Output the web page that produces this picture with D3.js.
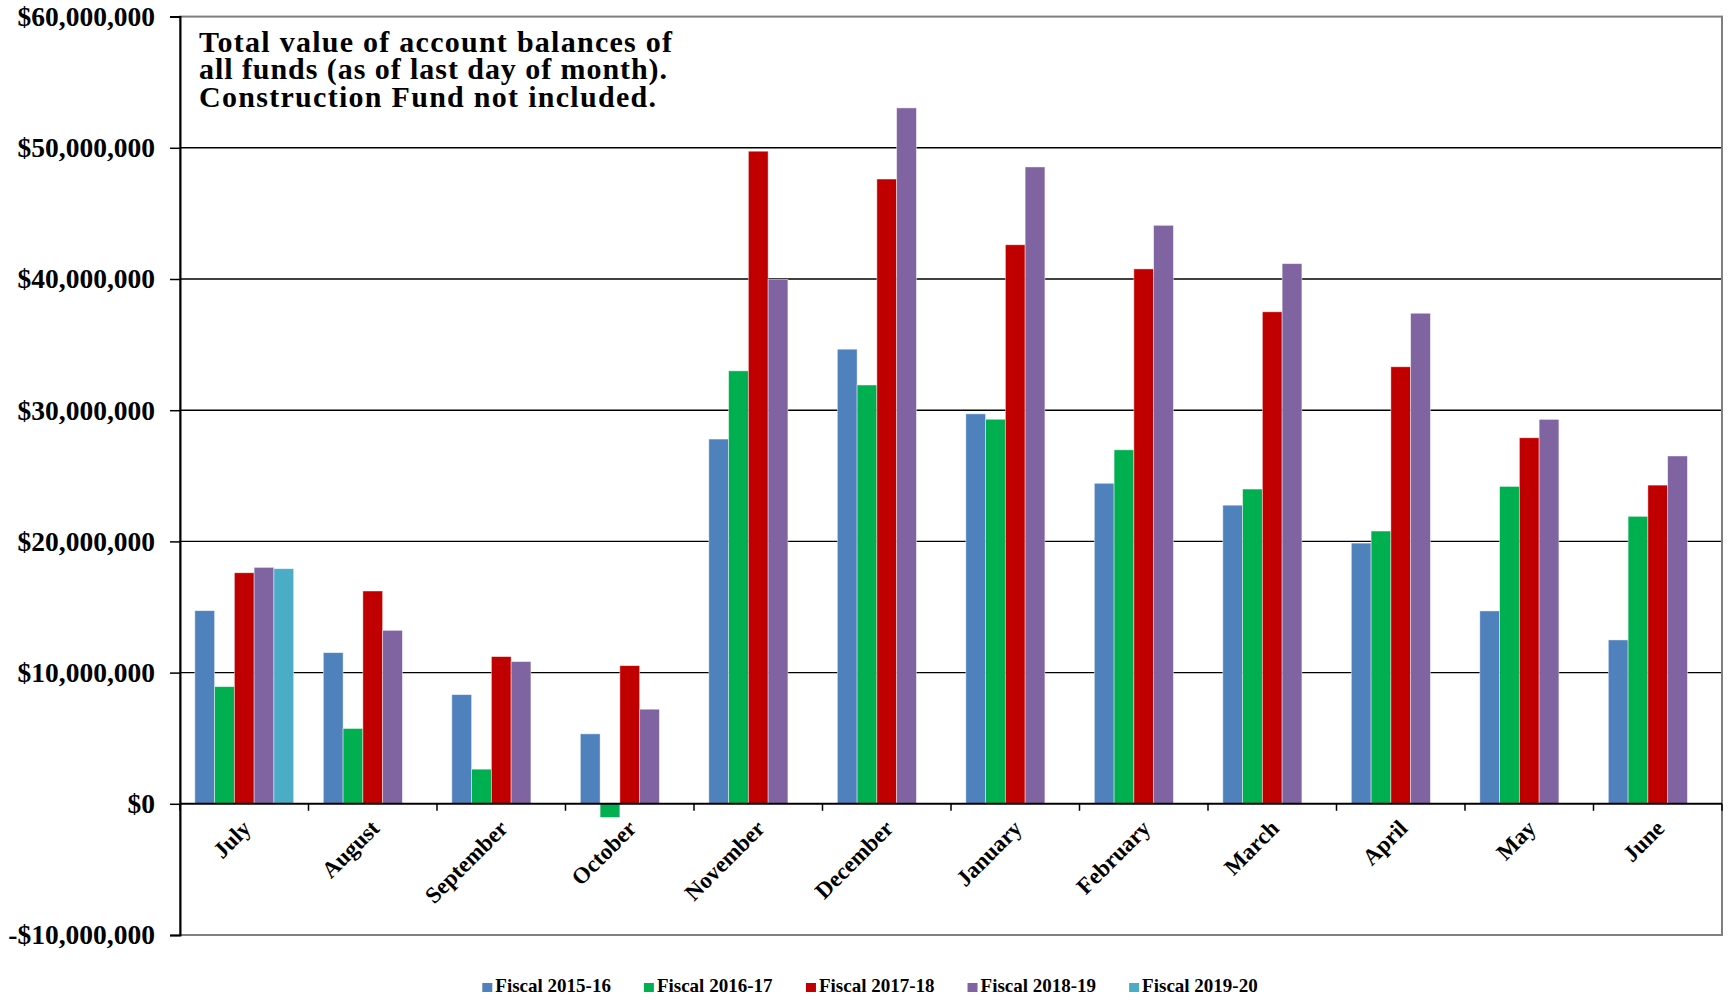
<!DOCTYPE html>
<html>
<head>
<meta charset="utf-8">
<script src="https://cdn.jsdelivr.net/npm/d3@7"></script>
<style>
  html, body { margin: 0; padding: 0; background: #fff; }
  svg { display: block; }
  text { font-family: "Liberation Serif", "Times New Roman", serif; font-weight: bold; fill: #000; }
</style>
</head>
<body>
<svg id="chart" width="1733" height="1000"></svg>
<script>
// Month-end balances of all funds (US$), by fiscal year
const months = ["July", "August", "September", "October", "November", "December",
                "January", "February", "March", "April", "May", "June"];
const seriesNames = ["Fiscal 2015-16", "Fiscal 2016-17", "Fiscal 2017-18", "Fiscal 2018-19", "Fiscal 2019-20"];
const fy2015_16 = [14720000, 11520000, 8320000, 5330000, 27800000, 34650000, 29720000, 24430000, 22760000, 19870000, 14700000, 12490000];
const fy2016_17 = [8930000, 5740000, 2640000, -1040000, 33000000, 31920000, 29310000, 26980000, 23990000, 20790000, 24190000, 21910000];
const fy2017_18 = [17610000, 16220000, 11220000, 10530000, 49740000, 47620000, 42610000, 40770000, 37500000, 33310000, 27900000, 24290000];
const fy2018_19 = [18020000, 13220000, 10840000, 7210000, 39970000, 53040000, 48540000, 44090000, 41170000, 37390000, 29300000, 26510000];
const fy2019_20 = [17920000, null, null, null, null, null, null, null, null, null, null, null];
const yTicks = [-10000000, 0, 10000000, 20000000, 30000000, 40000000, 50000000, 60000000];
const colors = ["#4F81BD", "#00B050", "#C00000", "#8064A2", "#4BACC6"];
const titleLines = ["Total value of account balances of",
                    "all funds (as of last day of month).",
                    "Construction Fund not included."];
const titleWidths = [473, 468, 457];

const seriesValues = [fy2015_16, fy2016_17, fy2017_18, fy2018_19, fy2019_20];

const svg = d3.select("#chart");
const plot = { left: 180, right: 1722, top: 16.6, bottom: 935 };

const x0 = d3.scaleBand().domain(months).range([plot.left, plot.right]).padding(0);
const x1 = d3.scaleBand().domain(seriesNames).range([0, x0.bandwidth()])
  .paddingInner(0).paddingOuter(0.75);
const y = d3.scaleLinear().domain([-10000000, 60000000]).range([plot.bottom, plot.top]);

const money = v => (v < 0 ? "-$" : "$") + d3.format(",")(Math.abs(v));

// horizontal gridlines
svg.append("g")
  .selectAll("line")
  .data(yTicks.filter(t => t > 0 && t < 60000000))
  .join("line")
  .attr("x1", plot.left).attr("x2", plot.right)
  .attr("y1", d => y(d)).attr("y2", d => y(d))
  .attr("stroke", "#000").attr("stroke-width", 1.4);

// plot frame
svg.append("rect")
  .attr("x", plot.left).attr("y", plot.top)
  .attr("width", plot.right - plot.left).attr("height", plot.bottom - plot.top)
  .attr("fill", "none").attr("stroke", "#7f7f7f").attr("stroke-width", 2);

// bars
const groups = svg.append("g").selectAll("g")
  .data(seriesNames.map((name, i) => ({ name, i, values: seriesValues[i] })))
  .join("g")
  .attr("fill", d => colors[d.i]);

groups.selectAll("rect")
  .data(d => d.values.map((v, m) => ({ name: d.name, month: months[m], v }))
    .filter(e => e.v !== null))
  .join("rect")
  .attr("x", d => x0(d.month) + x1(d.name))
  .attr("width", x1.bandwidth())
  .attr("y", d => y(Math.max(0, d.v)))
  .attr("height", d => Math.abs(y(d.v) - y(0)))
  .attr("stroke", "rgba(255,255,255,0.55)")
  .attr("stroke-width", 0.8);

// y axis
const yAxis = svg.append("g")
  .attr("transform", `translate(${plot.left},0)`)
  .call(d3.axisLeft(y).tickValues(yTicks).tickFormat(money).tickSize(10).tickPadding(15));
yAxis.select(".domain").attr("stroke", "#000").attr("stroke-width", 2);
yAxis.selectAll(".tick line").attr("stroke", "#000").attr("stroke-width", 1.5);
yAxis.selectAll(".tick text")
  .attr("font-size", 27.5)
  .attr("font-family", "Liberation Serif")
  .attr("font-weight", "bold")
  .attr("fill", "#000");

// category axis on the zero line
const xAxis = svg.append("g").attr("transform", `translate(0,${y(0)})`);
xAxis.append("line")
  .attr("x1", plot.left).attr("x2", plot.right)
  .attr("stroke", "#000").attr("stroke-width", 2);
xAxis.selectAll("line.tick")
  .data(months.map(m => x0(m) + x0.bandwidth()).concat([plot.left]))
  .join("line").attr("class", "tick")
  .attr("x1", d => d).attr("x2", d => d)
  .attr("y1", 0).attr("y2", 7)
  .attr("stroke", "#000").attr("stroke-width", 1.5);
xAxis.selectAll("text")
  .data(months)
  .join("text")
  .attr("text-anchor", "end")
  .attr("font-size", 23)
  .attr("transform", d => `translate(${x0(d) + x0.bandwidth() / 2 + 8},26) rotate(-45)`)
  .text(d => d);

// title inside the plot, three tightly set lines
svg.append("g").selectAll("text")
  .data(titleLines)
  .join("text")
  .attr("x", 199)
  .attr("y", (d, i) => 51.7 + i * 27.7)
  .attr("font-size", 30)
  .attr("textLength", (d, i) => titleWidths[i])
  .attr("lengthAdjust", "spacing")
  .text(d => d);

// legend
const legend = svg.append("g");
const items = legend.selectAll("g")
  .data(seriesNames)
  .join("g");
items.append("rect")
  .attr("width", 10).attr("height", 9)
  .attr("y", -9)
  .attr("fill", (d, i) => colors[i]);
items.append("text")
  .attr("x", 13)
  .attr("font-size", 19)
  .text(d => d);
let cursor = 0;
const gap = 33;
items.each(function () {
  const w = this.getBBox().width;
  d3.select(this).attr("transform", `translate(${cursor},0)`);
  cursor += w + gap;
});
const legendWidth = cursor - gap;
legend.attr("transform", `translate(${870 - legendWidth / 2},992)`);
</script>
</body>
</html>
